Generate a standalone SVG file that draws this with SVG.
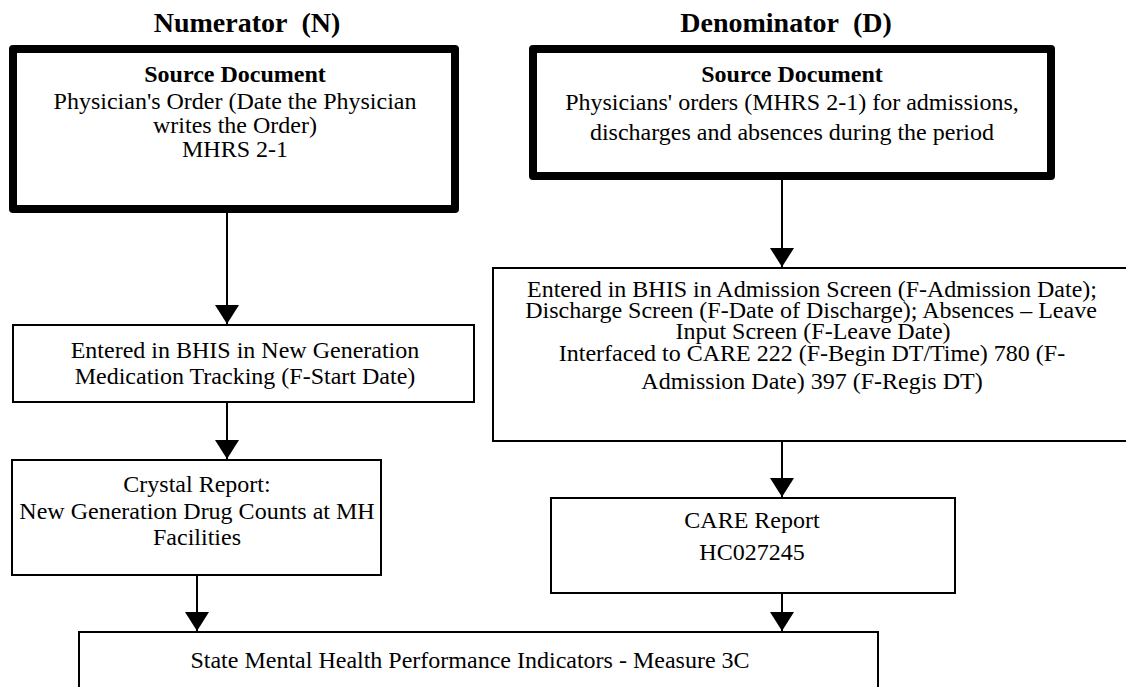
<svg xmlns="http://www.w3.org/2000/svg" width="1126" height="687" viewBox="0 0 1126 687">
<style>
  text { font-family: "Liberation Serif", "Times New Roman", serif; fill: #000; text-anchor: middle; }
  .title { font-size: 28px; font-weight: bold; }
  .t { font-size: 24px; }
  .b { font-weight: bold; }
  .src { fill: #fff; stroke: #000; stroke-width: 8; stroke-linejoin: round; }
  .box { fill: #fff; stroke: #000; stroke-width: 2; }
  .conn { stroke: #000; stroke-width: 2; fill: none; marker-end: url(#arrow); }
</style>
<defs>
  <marker id="arrow" markerUnits="userSpaceOnUse" viewBox="0 0 19 24" refX="19" refY="12" markerWidth="19" markerHeight="24" orient="auto">
    <path d="M0,0 L19,12 L0,24 z" fill="#000"/>
  </marker>
</defs>
<rect width="1126" height="687" fill="#fff"/>

<g id="title-n"><text class="title" x="247" y="32">Numerator&#160; (N)</text></g>
<g id="title-d"><text class="title" x="786" y="32">Denominator&#160; (D)</text></g>

<g id="src-n">
  <rect class="src" x="13" y="49" width="442" height="160"/>
  <text class="t b" x="235" y="82">Source Document</text>
  <text class="t" x="235" y="109">Physician's Order (Date the Physician</text>
  <text class="t" x="235" y="133">writes the Order)</text>
  <text class="t" x="235" y="157">MHRS 2-1</text>
</g>

<g id="src-d">
  <rect class="src" x="533" y="49" width="518" height="127"/>
  <text class="t b" x="792" y="82">Source Document</text>
  <text class="t" x="792" y="110">Physicians' orders (MHRS 2-1) for admissions,</text>
  <text class="t" x="792" y="140">discharges and absences during the period</text>
</g>

<g id="bhis-n">
  <rect class="box" x="13" y="325" width="461" height="77"/>
  <text class="t" x="245" y="358">Entered in BHIS in New Generation</text>
  <text class="t" x="245" y="384">Medication Tracking (F-Start Date)</text>
</g>

<g id="crystal">
  <rect class="box" x="12" y="460" width="369" height="115"/>
  <text class="t" x="197" y="492">Crystal Report:</text>
  <text class="t" x="197" y="519">New Generation Drug Counts at MH</text>
  <text class="t" x="197" y="545">Facilities</text>
</g>

<g id="bhis-d">
  <rect class="box" x="493" y="268" width="645" height="173"/>
  <text class="t" x="812" y="297">Entered in BHIS in Admission Screen (F-Admission Date);</text>
  <text class="t" x="811" y="318">Discharge Screen (F-Date of Discharge); Absences – Leave</text>
  <text class="t" x="813" y="339">Input Screen (F-Leave Date)</text>
  <text class="t" x="812" y="361">Interfaced to CARE 222 (F-Begin DT/Time) 780 (F-</text>
  <text class="t" x="812" y="389">Admission Date) 397 (F-Regis DT)</text>
</g>

<g id="care">
  <rect class="box" x="551" y="498" width="404" height="95"/>
  <text class="t" x="752" y="528">CARE Report</text>
  <text class="t" x="752" y="560">HC027245</text>
</g>

<g id="smh">
  <rect class="box" x="79" y="632" width="799" height="100"/>
  <text class="t" x="470" y="668">State Mental Health Performance Indicators - Measure 3C</text>
</g>

<g id="connectors">
  <line class="conn" x1="227" y1="213" x2="227" y2="324"/>
  <line class="conn" x1="227" y1="402" x2="227" y2="459"/>
  <line class="conn" x1="197" y1="575" x2="197" y2="631"/>
  <line class="conn" x1="782" y1="180" x2="782" y2="267"/>
  <line class="conn" x1="782" y1="441" x2="782" y2="497"/>
  <line class="conn" x1="782" y1="593" x2="782" y2="631"/>
</g>
</svg>
